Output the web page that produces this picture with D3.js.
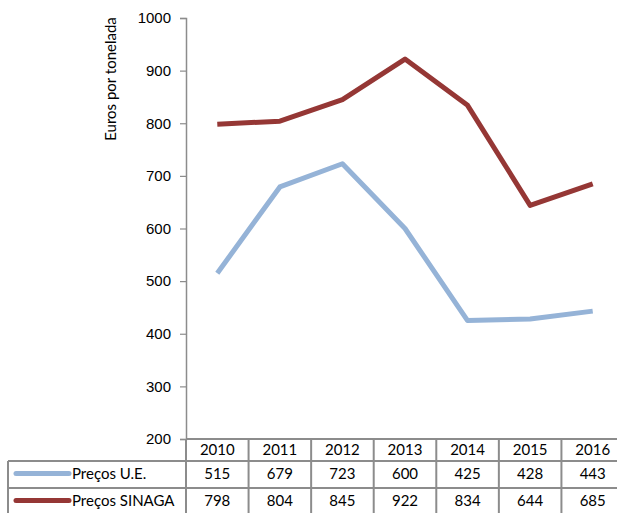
<!DOCTYPE html>
<html>
<head>
<meta charset="utf-8">
<script src="https://cdn.jsdelivr.net/npm/d3@7"></script>
<style>
  body { margin: 0; background: #fff; }
  svg { display: block; font-family: Lato, "DejaVu Sans", sans-serif; }
</style>
</head>
<body>
<svg width="617" height="513"></svg>
<script>
// data
const years = ['2010', '2011', '2012', '2013', '2014', '2015', '2016'];
const precosUE = [515, 679, 723, 600, 425, 428, 443];
const precosSinaga = [798, 804, 845, 922, 834, 644, 685];
const seriesNames = ['Preços U.E.', 'Preços SINAGA'];
const seriesColors = ['#95b3d7', '#953735'];
const yTicks = [200, 300, 400, 500, 600, 700, 800, 900, 1000];

function main() {
    const svg = d3.select('svg');
    const gridColor = '#8c8c8c';

    const x = d3.scaleBand().domain(years).range([186, 624]);
    const y = d3.scaleLinear().domain([200, 1000]).range([439, 18]);

    // y axis
    const yAxis = svg.append('g')
        .attr('transform', 'translate(186,0)')
        .call(d3.axisLeft(y).tickValues(yTicks).tickFormat(d3.format('d')).tickSize(6).tickPadding(9));
    yAxis.select('.domain').attr('stroke', gridColor).attr('stroke-width', 1.5);
    yAxis.selectAll('.tick line').attr('stroke', gridColor).attr('stroke-width', 1.2);
    yAxis.selectAll('.tick text').attr('font-size', 15).attr('fill', '#000');

    svg.append('text')
        .attr('transform', 'translate(116,79) rotate(-90)')
        .attr('text-anchor', 'middle')
        .attr('font-size', 15)
        .text('Euros por tonelada');

    // lines
    const series = [precosUE, precosSinaga];
    const line = d3.line()
        .x(function (d, i) { return x(years[i]) + x.bandwidth() / 2; })
        .y(function (d) { return y(d); });
    series.forEach(function (s, k) {
        svg.append('path')
            .datum(s)
            .attr('fill', 'none')
            .attr('stroke', seriesColors[k])
            .attr('stroke-width', 5)
            .attr('stroke-linejoin', 'round')
            .attr('d', line);
    });

    // data table
    const rowTop = [439, 461, 488];
    const rowBottom = [461, 488, 515];
    const table = svg.append('g');
    table.append('line').attr('x1', 186).attr('x2', 617).attr('y1', 439).attr('y2', 439)
        .attr('stroke', gridColor).attr('stroke-width', 2);
    [461, 488].forEach(function (yy) {
        table.append('line').attr('x1', 8).attr('x2', 617).attr('y1', yy).attr('y2', yy)
            .attr('stroke', gridColor).attr('stroke-width', 2);
    });
    table.append('line').attr('x1', 8).attr('x2', 8).attr('y1', 461).attr('y2', 513)
        .attr('stroke', gridColor).attr('stroke-width', 2);
    years.forEach(function (yr) {
        const xr = x(yr) + x.bandwidth();
        table.append('line').attr('x1', xr).attr('x2', xr).attr('y1', 439).attr('y2', 513)
            .attr('stroke', gridColor).attr('stroke-width', 2);
    });
    table.append('line').attr('x1', 186).attr('x2', 186).attr('y1', 439).attr('y2', 513)
        .attr('stroke', gridColor).attr('stroke-width', 2);

    // header
    table.selectAll('.yr')
        .data(years)
        .enter().append('text')
        .attr('x', function (d) { return x(d) + x.bandwidth() / 2; })
        .attr('y', (rowTop[0] + rowBottom[0]) / 2 + 5)
        .attr('text-anchor', 'middle')
        .attr('font-size', 15)
        .text(function (d) { return d; });

    series.forEach(function (s, k) {
        const cy = (rowTop[k + 1] + rowBottom[k + 1]) / 2 - 1;
        table.append('line')
            .attr('x1', 16).attr('x2', 69).attr('y1', cy).attr('y2', cy)
            .attr('stroke', seriesColors[k]).attr('stroke-width', 5)
            .attr('stroke-linecap', 'round');
        table.append('text')
            .attr('x', 72).attr('y', cy + 5)
            .attr('font-size', 15)
            .text(seriesNames[k]);
        table.selectAll('.v' + k)
            .data(s)
            .enter().append('text')
            .attr('x', function (d, i) { return x(years[i]) + x.bandwidth() / 2; })
            .attr('y', cy + 5)
            .attr('text-anchor', 'middle')
            .attr('font-size', 15)
            .text(function (d) { return d; });
    });
}
main();
</script>
</body>
</html>
